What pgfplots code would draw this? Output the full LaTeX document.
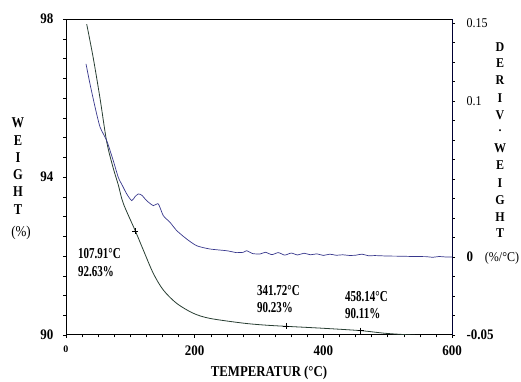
\documentclass[border=0pt]{standalone}
\usepackage{fontspec}
\setmainfont{Liberation Serif}
\usepackage{pgfplots}
\pgfplotsset{compat=1.18}
\definecolor{wcol}{RGB}{40,62,50}
\definecolor{dcol}{RGB}{55,55,140}
\newcommand{\vs}[2][1.12]{\scalebox{1}[#1]{#2}}
\begin{document}
\begin{tikzpicture}
\begin{axis}[
  at={(0,0)}, anchor=south west,
  scale only axis, width=386pt, height=316pt,
  xmin=0, xmax=600, ymin=90, ymax=98,
  xtick={0,200,400,600},
  xticklabels={{\raisebox{4pt}{\fontsize{10}{10}\selectfont 0}},\vs{200},\vs{400},\vs{600}},
  ytick={90,94,98},
  yticklabels={\vs{90},\vs{94},\vs{98}},
  minor x tick num=7, minor y tick num=7,
  xtick pos=bottom, ytick pos=left,
  tick align=outside, major tick length=3pt, minor tick length=2.5pt,
  tick style={black, line width=0.5pt},
  axis line style={black, line width=1pt},
  ticklabel style={font=\fontsize{13}{15}\selectfont\bfseries},
  yticklabel style={xshift=-6pt},
  xticklabel style={yshift=-4pt},
]
\addplot[wcol, line width=0.8pt, smooth, tension=0.5] coordinates {
(32.2,97.87)(42.4,97.01)(52.9,95.99)(63.3,94.89)(73.5,94.22)(81.3,93.80)
(89.1,93.33)(107.91,92.63)(120.2,92.15)(135.7,91.56)(151.2,91.14)(172.1,90.80)
(197.9,90.55)(223.8,90.42)(275.6,90.30)(310,90.25)(341.72,90.22)(400,90.17)
(458.14,90.11)(498.5,90.04)(550,89.99)(600,89.96)};
\addplot[only marks, mark=+, mark size=3pt, black, line width=0.5pt] coordinates {
(107.91,92.63)(341.72,90.23)(458.14,90.11)};
\end{axis}
\begin{axis}[
  at={(0,0)}, anchor=south west,
  scale only axis, width=386pt, height=316pt,
  xmin=0, xmax=600, ymin=-0.05, ymax=0.1525,
  axis x line=none, axis y line*=right,
  ytick={-0.05,0,0.05,0.1,0.15},
  yticklabels={\vs{-0.05},\vs{0},{},{\mdseries\fontsize{12}{14}\selectfont\vs{0.1}},{\mdseries\fontsize{12}{14}\selectfont\vs{0.15}}},
  minor y tick num=3,
  tick align=outside, major tick length=3pt, minor tick length=2.5pt,
  tick style={black, line width=0.5pt},
  axis line style={black!80!blue, line width=1pt},
  ticklabel style={font=\fontsize{13}{15}\selectfont\bfseries},
  yticklabel style={xshift=8pt},
]
\addplot[dcol, line width=0.7pt, smooth, tension=0.4] coordinates {
(31.1,0.1237)(37.3,0.1109)(45.1,0.0962)(52.9,0.0833)(63.3,0.0745)(73.5,0.0617)
(81.3,0.0510)(88,0.0455)(94.4,0.0404)(102.1,0.0361)(107,0.0385)(112.4,0.0404)
(118,0.0395)(125.4,0.0361)(135.7,0.0329)(143.5,0.0340)(151.2,0.0265)(161.7,0.0222)
(172.1,0.0169)(187.6,0.0115)(203.2,0.0072)(223.8,0.0051)(249.8,0.0040)(265,0.0028)
(275.6,0.0030)(280.8,0.0040)(290,0.0022)(301.6,0.0019)(310,0.0030)(320,0.0015)
(330,0.0028)(340,0.0012)(350,0.0025)(360,0.0013)(370,0.0024)(380,0.0014)
(390,0.0020)(400,0.0010)(410,0.0018)(420,0.0011)(430,0.0014)(440,0.0010)
(450,0.0011)(460,0.0018)(470,0.0008)(480,0.0009)(500,0.0006)(520,0.0005)
(540,0.0003)(560,0.0002)(570,-0.0002)(580,0.0003)(590,0.0)(600,0.0)};
\end{axis}
% left label
\begin{scope}[font=\fontsize{12.5}{15}\selectfont\bfseries]
\node at (-48pt,212pt) {\vs[1.2]{W}};
\node at (-48pt,194pt) {\vs[1.2]{E}};
\node at (-48pt,177pt) {\vs[1.2]{I}};
\node at (-48pt,160pt) {\vs[1.2]{G}};
\node at (-48pt,143pt) {\vs[1.2]{H}};
\node at (-48pt,125pt) {\vs[1.2]{T}};
\end{scope}
\node[font=\fontsize{13}{15}\selectfont] at (-45pt,102pt) {\vs[1.15]{(\%)}};
% right label
\begin{scope}[font=\fontsize{12}{14}\selectfont\bfseries]
\node at (434pt,288pt) {\vs{D}};
\node at (434pt,272pt) {\vs{E}};
\node at (434pt,255pt) {\vs{R}};
\node at (434pt,237pt) {\vs{I}};
\node at (434pt,220pt) {\vs{V}};
\node at (434pt,204pt) {.};
\node at (434pt,187pt) {\vs{W}};
\node at (434pt,170pt) {\vs{E}};
\node at (434pt,152pt) {\vs{I}};
\node at (434pt,135pt) {\vs{G}};
\node at (434pt,118pt) {\vs{H}};
\node at (434pt,102pt) {\vs{T}};
\end{scope}
\node[font=\fontsize{12}{14}\selectfont] at (436pt,77pt) {\vs{(\%/°C)}};
% x label
\node[font=\fontsize{12.8}{15}\selectfont\bfseries] at (203pt,-38pt) {\vs[1.17]{TEMPERATUR (°C)}};
% annotations
\begin{scope}[font=\fontsize{11}{13}\selectfont\bfseries, inner sep=0pt]
\node[anchor=west] at (12pt,81pt) {\vs[1.38]{107.91°C}};
\node[anchor=west] at (12pt,63pt) {\vs[1.38]{92.63\%}};
\node[anchor=west] at (191pt,44pt) {\vs[1.38]{341.72°C}};
\node[anchor=west] at (191pt,27pt) {\vs[1.38]{90.23\%}};
\node[anchor=west] at (279pt,38pt) {\vs[1.38]{458.14°C}};
\node[anchor=west] at (279pt,21pt) {\vs[1.38]{90.11\%}};
\end{scope}
\pgfresetboundingbox
\path[use as bounding box] (-66pt,-47pt) rectangle (455pt,335pt);
\end{tikzpicture}
\end{document}
